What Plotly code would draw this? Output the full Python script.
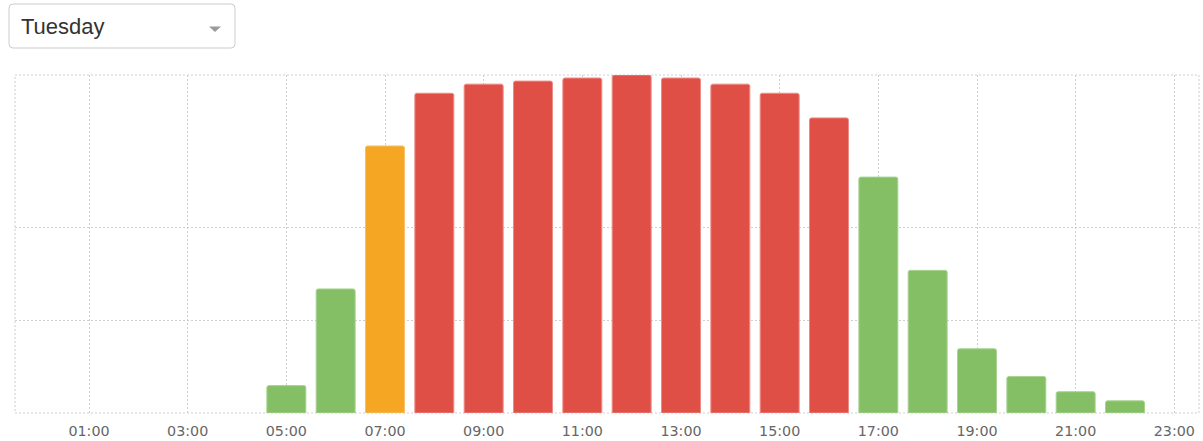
import plotly.graph_objects as go

# Hour of day (0..23) and the relative crowd level for the selected day
hours = list(range(24))
hour_labels = [f"{h:02d}:00" for h in hours]
busyness = [0, 0, 0, 0, 0, 8.1, 36.7, 79.0, 94.6, 97.3, 98.2, 99.1,
            100.0, 99.1, 97.3, 94.6, 87.3, 69.8, 42.2, 19.0, 10.8, 6.3, 3.6, 0]
levels = ["quiet"] * 7 + ["busy"] + ["peak"] * 9 + ["quiet"] * 7
selected_day = "Tuesday"
grid_values = [27.5, 55]
label_hours = [h for h in hours if h % 2 == 1]

level_fill = {"quiet": "#84bf65", "busy": "#f5a623", "peak": "#e04f46"}
level_edge = {"quiet": "#a9d393", "busy": "#f8c06a", "peak": "#ec8c86"}

bar_y = [v if v > 0 else None for v in busyness]

fig = go.Figure(
    go.Bar(
        x=hours,
        y=bar_y,
        marker=dict(
            color=[level_fill[l] for l in levels],
            line=dict(color=[level_edge[l] for l in levels], width=1),
        ),
        hovertemplate="%{x}:00 — %{y}<extra></extra>",
    )
)

grid_color = "#cfcfcf"
fig.update_layout(
    width=1203,
    height=441,
    margin=dict(l=15, r=4, t=75, b=28),
    paper_bgcolor="white",
    plot_bgcolor="white",
    bargap=0.21,
    barcornerradius=2,
    showlegend=False,
    xaxis=dict(
        range=[-0.5, 23.5],
        tickvals=label_hours,
        ticktext=[hour_labels[h] for h in label_hours],
        ticks="",
        ticklabelstandoff=8,
        automargin=False,
        showgrid=True,
        gridcolor=grid_color,
        griddash="2px,2px",
        gridwidth=1,
        zeroline=False,
        showline=False,
        tickfont=dict(family="DejaVu Sans", size=14.3, color="#666666"),
        fixedrange=True,
    ),
    yaxis=dict(
        range=[0, 100],
        tickvals=grid_values,
        showticklabels=False,
        ticks="",
        automargin=False,
        showgrid=True,
        gridcolor=grid_color,
        griddash="2px,2px",
        gridwidth=1,
        zeroline=False,
        showline=False,
        fixedrange=True,
    ),
    shapes=[
        # dotted frame round the plotting area
        dict(type="rect", xref="paper", yref="paper", x0=0, x1=1, y0=0, y1=1,
             line=dict(color=grid_color, width=1, dash="2px,2px"), layer="below"),
        # day selector box
        dict(type="path", xref="paper", yref="paper",
             xsizemode="pixel", ysizemode="pixel", xanchor=0, yanchor=1,
             path="M -2,27 L 216,27 Q 220,27 220,31 L 220,67 Q 220,71 216,71 "
                  "L -2,71 Q -6,71 -6,67 L -6,31 Q -6,27 -2,27 Z",
             line=dict(color="#cccccc", width=1), fillcolor="white"),
        # selector caret
        dict(type="path", xref="paper", yref="paper",
             xsizemode="pixel", ysizemode="pixel", xanchor=0, yanchor=1,
             path="M 194,48.5 L 206,48.5 L 200,43 Z",
             line=dict(width=0), fillcolor="#9a9a9a"),
    ],
    annotations=[
        dict(text=selected_day, xref="paper", yref="paper",
             x=(19 - 15) / 1184, y=(413 - 26) / 338,
             xanchor="left", yanchor="middle", showarrow=False,
             font=dict(family="Liberation Sans", size=22, color="#333333")),
    ],
)

fig.write_html("out.html")
